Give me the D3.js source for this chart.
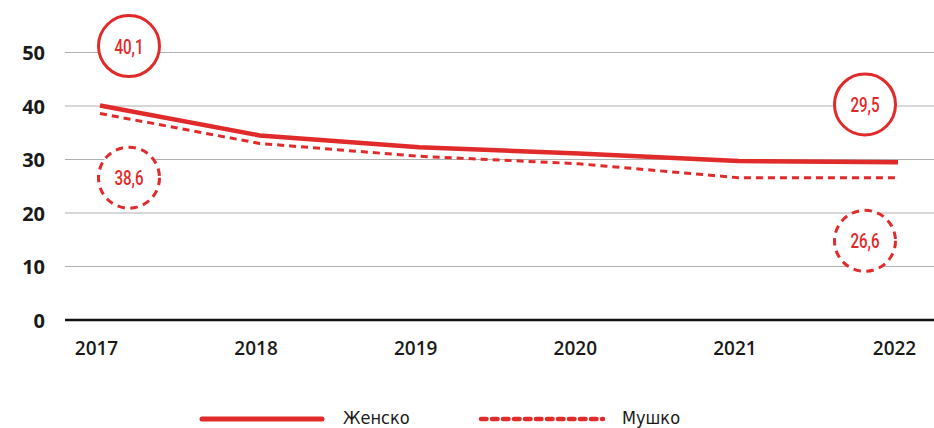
<!DOCTYPE html>
<html lang="sr">
<head>
    <meta charset="utf-8">
    <title>Женско / Мушко</title>
    <script src="https://d3js.org/d3.v7.min.js" charset="utf-8"></script>
    <style type="text/css">
        body
        {
            margin: 0;
            background-color: #ffffff;
        }
        .ytick text
        {
            font-family: "Open Sans", sans-serif;
            font-weight: 700;
            font-size: 20px;
            fill: #1a1a1a;
        }
        .xtick text
        {
            font-family: "Open Sans", sans-serif;
            font-weight: 600;
            font-size: 19px;
            fill: #1a1a1a;
        }
        .note
        {
            font-family: Roboto, sans-serif;
            font-weight: 500;
            font-size: 21px;
            fill: #e12a2a;
        }
        .legend_text
        {
            font-family: "DejaVu Sans Condensed", sans-serif;
            font-size: 18px;
            fill: #1a1a1a;
        }
    </style>
</head>
<body>
<div id="chart_div"></div>
<script>
"use strict";
var years = [2017, 2018, 2019, 2020, 2021, 2022];
var zensko = [40.1, 34.5, 32.3, 31.1, 29.7, 29.5];
var musko = [38.6, 33.0, 30.6, 29.2, 26.6, 26.6];
var y_ticks = [0, 10, 20, 30, 40, 50];
var series_names = ["Женско", "Мушко"];
// annotation circles: year, level on y scale, label
var notes = [
    {year: 2017, at: 51.2, text: "40,1", dashed: false},
    {year: 2017, at: 26.6, text: "38,6", dashed: true},
    {year: 2022, at: 40.3, text: "29,5", dashed: false},
    {year: 2022, at: 14.8, text: "26,6", dashed: true}
];

var svg_width = 934;
var svg_height = 428;
var red = "#e12a2a";

var svg = d3.select("#chart_div")
    .append("svg")
    .attr("width", svg_width)
    .attr("height", svg_height);

var xscale = d3.scalePoint()
    .domain(years)
    .range([100, 898]);
var yscale = d3.scaleLinear()
    .domain([0, 50])
    .range([320, 52.5]);

// grid + y labels
var yaxis = d3.axisLeft(yscale)
    .tickValues(y_ticks)
    .tickSize(0)
    .tickPadding(0)
    .tickFormat(d3.format("d"));
var yg = svg.append("g")
    .attr("transform", "translate(45,0)")
    .call(yaxis);
yg.select(".domain").remove();
yg.selectAll(".tick").attr("class", "ytick");
yg.selectAll("text").attr("dy", "0.36em");

svg.append("g")
    .selectAll("line")
    .data(y_ticks)
    .enter()
    .append("line")
    .attr("x1", 65)
    .attr("x2", svg_width)
    .attr("y1", (d) => yscale(d))
    .attr("y2", (d) => yscale(d))
    .attr("stroke", (d) => d == 0 ? "#111" : "#b0b0b0")
    .attr("stroke-width", (d) => d == 0 ? 2.5 : 1.2);

// x labels
var xaxis = d3.axisBottom(xscale).tickSize(0).tickPadding(0);
var xg = svg.append("g")
    .attr("transform", "translate(-4,341)")
    .call(xaxis);
xg.select(".domain").remove();
xg.selectAll(".tick").attr("class", "xtick");

// lines
var line = d3.line()
    .x((d) => xscale(d[0]))
    .y((d) => yscale(d[1]));

svg.append("path")
    .datum(d3.zip(years, musko))
    .attr("d", line)
    .attr("fill", "none")
    .attr("stroke", red)
    .attr("stroke-width", 3)
    .attr("stroke-dasharray", "7,5");

svg.append("path")
    .datum(d3.zip(years, zensko))
    .attr("d", line)
    .attr("fill", "none")
    .attr("stroke", red)
    .attr("stroke-width", 4.5)
    .attr("stroke-linejoin", "round");

// annotation circles
var ng = svg.append("g")
    .selectAll("g")
    .data(notes)
    .enter()
    .append("g")
    .attr("transform", function(d)
    {
        var dx = d.year == 2017 ? 29 : -33;
        return "translate(" + (xscale(d.year) + dx) + "," + yscale(d.at) + ")";
    });
ng.append("circle")
    .attr("r", 30.5)
    .attr("fill", "#ffffff")
    .attr("stroke", red)
    .attr("stroke-width", 3)
    .attr("stroke-dasharray", (d) => d.dashed ? "7.5,5.5" : null);
ng.append("text")
    .attr("class", "note")
    .attr("text-anchor", "middle")
    .attr("dy", "0.36em")
    .attr("transform", "scale(0.72,1)")
    .text((d) => d.text);

// legend
var legend = svg.append("g");
legend.append("line")
    .attr("x1", 202).attr("x2", 322)
    .attr("y1", 419).attr("y2", 419)
    .attr("stroke", red)
    .attr("stroke-width", 5)
    .attr("stroke-linecap", "round");
legend.append("text")
    .attr("class", "legend_text")
    .attr("x", 343).attr("y", 424)
    .text(series_names[0]);
legend.append("line")
    .attr("x1", 481).attr("x2", 603)
    .attr("y1", 419).attr("y2", 419)
    .attr("stroke", red)
    .attr("stroke-width", 4.5)
    .attr("stroke-linecap", "round")
    .attr("stroke-dasharray", "5.5,5.5");
legend.append("text")
    .attr("class", "legend_text")
    .attr("x", 622).attr("y", 424)
    .text(series_names[1]);
</script>
</body>
</html>
